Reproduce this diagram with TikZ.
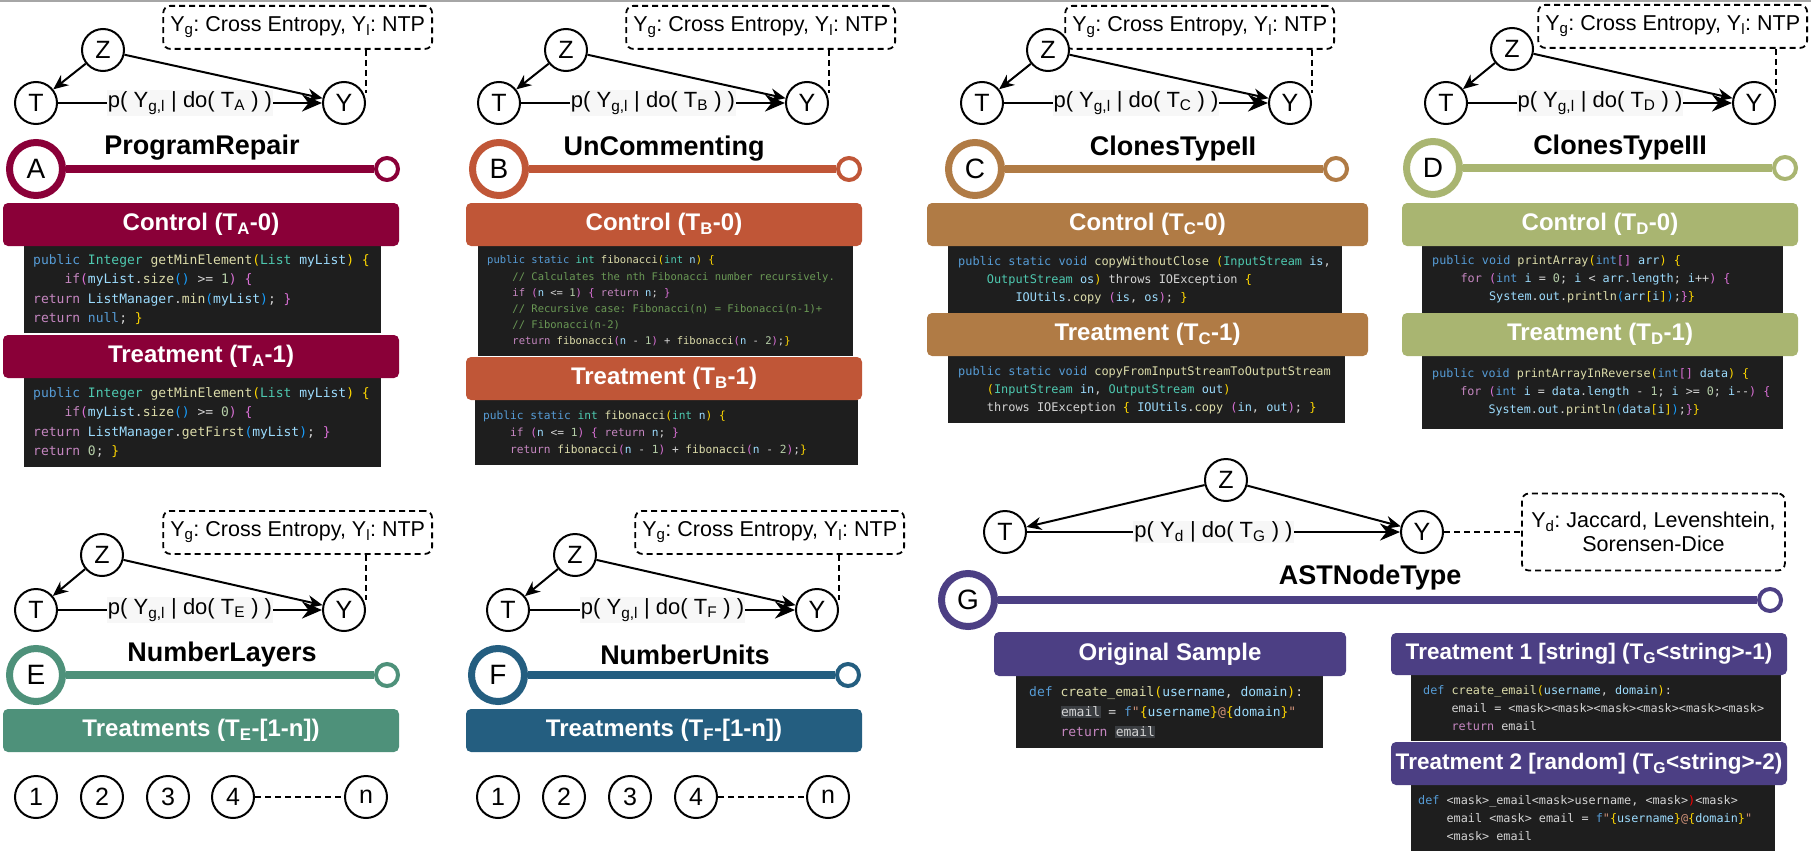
\documentclass[tikz,border=0pt]{standalone}
\usepackage{fontspec}
\setmainfont{Liberation Sans}
\newfontfamily\codefont{DejaVu Sans Mono}
\usepackage{tikz}
\usetikzlibrary{arrows.meta,positioning}
\frenchspacing

\definecolor{colA}{HTML}{8A0038}
\definecolor{colB}{HTML}{C05637}
\definecolor{colC}{HTML}{B07B45}
\definecolor{colD}{HTML}{A9B571}
\definecolor{colE}{HTML}{4E917A}
\definecolor{colF}{HTML}{245E80}
\definecolor{colG}{HTML}{4C3F84}
\definecolor{codebg}{HTML}{1E1E1E}
\definecolor{hlbg}{HTML}{3A3D41}
\definecolor{cdef}{HTML}{D4D4D4}
\definecolor{ckw}{HTML}{569CD6}
\definecolor{cty}{HTML}{4EC9B0}
\definecolor{cfn}{HTML}{DCDCAA}
\definecolor{cfl}{HTML}{C586C0}
\definecolor{cvr}{HTML}{9CDCFE}
\definecolor{ccm}{HTML}{6A9955}
\definecolor{cnm}{HTML}{B5CEA8}
\definecolor{cba}{HTML}{FFD700}
\definecolor{cbb}{HTML}{DA70D6}
\definecolor{cbc}{HTML}{179FFF}
\definecolor{cstr}{HTML}{CE9178}

\newcommand\Kw[1]{\textcolor{ckw}{#1}}
\newcommand\Ty[1]{\textcolor{cty}{#1}}
\newcommand\Fn[1]{\textcolor{cfn}{#1}}
\newcommand\Fl[1]{\textcolor{cfl}{#1}}
\newcommand\Vr[1]{\textcolor{cvr}{#1}}
\newcommand\Cm[1]{\textcolor{ccm}{#1}}
\newcommand\Nm[1]{\textcolor{cnm}{#1}}
\newcommand\Ba[1]{\textcolor{cba}{#1}}
\newcommand\Bb[1]{\textcolor{cbb}{#1}}
\newcommand\Bc[1]{\textcolor{cbc}{#1}}
\newcommand\St[1]{\textcolor{cstr}{#1}}
\newcommand\Hl[1]{{\fboxsep=0.5pt\colorbox{hlbg}{#1}}}
\newcommand\codeind{\phantom{0000}}

\begin{document}
\begin{tikzpicture}[
        x=1pt,
        y=-1pt,
        var/.style={circle, draw, line width=2pt, minimum size=42pt, inner sep=0pt, fill=white, font=\fontsize{25}{25}\selectfont},
        ring/.style={circle, draw=#1, line width=7pt, fill=white, minimum size=53pt, inner sep=0pt, font=\fontsize{28}{28}\selectfont},
        tip/.style={circle, draw=#1, line width=4pt, fill=white, minimum size=22pt, inner sep=0pt},
        bar/.style={draw=#1, line width=8pt},
        title/.style={font=\bfseries\fontsize{27}{27}\selectfont, inner sep=0pt},
        note/.style={draw, dash pattern=on 6pt off 4pt, line width=1.8pt, rounded corners=7pt, inner xsep=7pt, minimum height=43pt, font=\fontsize{21.5}{24}\selectfont},
        notelink/.style={dash pattern=on 6pt off 4pt, line width=1.8pt},
        cause/.style={-{Stealth[length=15pt,width=13pt]}, line width=2pt},
        effect/.style={-{Stealth[length=20pt,width=17pt]}, line width=2.8pt},
        elabel/.style={fill=black!3, inner sep=1pt, font=\fontsize{22}{22}\selectfont},
        head/.style={fill=#1, rounded corners=5pt, text=white, font=\bfseries\fontsize{24}{24}\selectfont, inner sep=0pt, minimum height=43pt},
        code/.style={fill=codebg, anchor=north west, inner sep=0pt},
        src/.style args={#1/#2}{text=cdef, align=left, inner sep=0pt, anchor=west, font=\codefont\fontsize{#1}{#2}\selectfont}
    ]
        \useasboundingbox (0,0) rectangle (1811,859);
        \draw[gray!70, line width=2pt] (0,1) -- (1811,1);

        % A: ProgramRepair
        \node[note, anchor=north east] (noteA) at (433,5) {Y\textsubscript{g}: Cross Entropy, Y\textsubscript{l}: NTP};
        \node[var] (zA) at (103,50) {Z};
        \node[var] (tA) at (36,103) {T};
        \node[var] (yA) at (344,103) {Y};
        \draw[cause] (zA) -- (tA);
        \draw[cause] (zA) -- (yA);
        \draw[effect] (tA) -- node[elabel] {p( Y\textsubscript{g,l} | do( T\textsubscript{A} ) )} (yA);
        \draw[notelink] (noteA.south -| yA.east) -- ([yshift=10pt]yA.east);
        \node[title] (nameA) at (202,148) {ProgramRepair};
        \node[ring=colA] (ringA) at (36,169) {A};
        \node[tip=colA] (endA) at (387,169) {};
        \draw[bar=colA] (ringA) -- (endA);
        \node[code, minimum width=357pt, minimum height=87pt] (bA0) at (24,246) {};
        \node[head=colA, minimum width=396pt] (hA0) at (201,224.5) {Control (T\textsubscript{A}-0)};
        \node[src=13/19.5] (sA0) at ([xshift=9pt]bA0.west) {%
            \Kw{public} \Ty{Integer} \Fn{getMinElement}\Ba{(}\Ty{List} \Vr{myList}\Ba{)} \Ba{\{}\\
            \codeind\Fl{if}\Bb{(}\Vr{myList}.\Fn{size}\Bc{()} >= \Nm{1}\Bb{)} \Bb{\{}\\
            \Fl{return} \Vr{ListManager}.\Fn{min}\Bc{(}\Vr{myList}\Bc{)}; \Bb{\}}\\
            \Fl{return} \Kw{null}; \Ba{\}}};
        \node[code, minimum width=357pt, minimum height=89pt] (bA1) at (24,378) {};
        \node[head=colA, minimum width=396pt] (hA1) at (201,356.5) {Treatment (T\textsubscript{A}-1)};
        \node[src=13/19.5] (sA1) at ([xshift=9pt]bA1.west) {%
            \Kw{public} \Ty{Integer} \Fn{getMinElement}\Ba{(}\Ty{List} \Vr{myList}\Ba{)} \Ba{\{}\\
            \codeind\Fl{if}\Bb{(}\Vr{myList}.\Fn{size}\Bc{()} >= \Nm{0}\Bb{)} \Bb{\{}\\
            \Fl{return} \Vr{ListManager}.\Fn{getFirst}\Bc{(}\Vr{myList}\Bc{)}; \Bb{\}}\\
            \Fl{return} \Nm{0}; \Ba{\}}};

        % B: UnCommenting
        \node[note, anchor=north east] (noteB) at (896,5) {Y\textsubscript{g}: Cross Entropy, Y\textsubscript{l}: NTP};
        \node[var] (zB) at (566,50) {Z};
        \node[var] (tB) at (499,103) {T};
        \node[var] (yB) at (807,103) {Y};
        \draw[cause] (zB) -- (tB);
        \draw[cause] (zB) -- (yB);
        \draw[effect] (tB) -- node[elabel] {p( Y\textsubscript{g,l} | do( T\textsubscript{B} ) )} (yB);
        \draw[notelink] (noteB.south -| yB.east) -- ([yshift=10pt]yB.east);
        \node[title] (nameB) at (664,149) {UnCommenting};
        \node[ring=colB] (ringB) at (499,169) {B};
        \node[tip=colB] (endB) at (849,169) {};
        \draw[bar=colB] (ringB) -- (endB);
        \node[code, minimum width=375pt, minimum height=110pt] (bB0) at (478,246) {};
        \node[head=colB, minimum width=396pt] (hB0) at (664,224.5) {Control (T\textsubscript{B}-0)};
        \node[src=10.5/16.2] (sB0) at ([xshift=9pt]bB0.west) {%
            \Kw{public} \Kw{static} \Ty{int} \Fn{fibonacci}\Ba{(}\Ty{int} \Vr{n}\Ba{)} \Ba{\{}\\
            \codeind\Cm{// Calculates the nth Fibonacci number recursively.}\\
            \codeind\Fl{if} \Bb{(}\Vr{n} <= \Nm{1}\Bb{)} \Bb{\{} \Fl{return} \Vr{n}; \Bb{\}}\\
            \codeind\Cm{// Recursive case: Fibonacci(n) = Fibonacci(n-1)+}\\
            \codeind\Cm{// Fibonacci(n-2)}\\
            \codeind\Fl{return} \Fn{fibonacci}\Bb{(}\Vr{n} - \Nm{1}\Bb{)} + \Fn{fibonacci}\Bb{(}\Vr{n} - \Nm{2}\Bb{)};\Ba{\}}};
        \node[code, minimum width=383pt, minimum height=65pt] (bB1) at (475,400) {};
        \node[head=colB, minimum width=396pt] (hB1) at (664,378.5) {Treatment (T\textsubscript{B}-1)};
        \node[src=11.2/17] (sB1) at ([xshift=8pt]bB1.west) {%
            \Kw{public} \Kw{static} \Ty{int} \Fn{fibonacci}\Ba{(}\Ty{int} \Vr{n}\Ba{)} \Ba{\{}\\
            \codeind\Fl{if} \Bb{(}\Vr{n} <= \Nm{1}\Bb{)} \Bb{\{} \Fl{return} \Vr{n}; \Bb{\}}\\
            \codeind\Fl{return} \Fn{fibonacci}\Bb{(}\Vr{n} - \Nm{1}\Bb{)} + \Fn{fibonacci}\Bb{(}\Vr{n} - \Nm{2}\Bb{)};\Ba{\}}};

        % C: ClonesTypeII
        \node[note, anchor=north east] (noteC) at (1335,5) {Y\textsubscript{g}: Cross Entropy, Y\textsubscript{l}: NTP};
        \node[var] (zC) at (1048,50) {Z};
        \node[var] (tC) at (982,103) {T};
        \node[var] (yC) at (1290,103) {Y};
        \draw[cause] (zC) -- (tC);
        \draw[cause] (zC) -- (yC);
        \draw[effect] (tC) -- node[elabel] {p( Y\textsubscript{g,l} | do( T\textsubscript{C} ) )} (yC);
        \draw[notelink] (noteC.south -| yC.east) -- ([yshift=10pt]yC.east);
        \node[title] (nameC) at (1173,149) {ClonesTypeII};
        \node[ring=colC] (ringC) at (975,169) {C};
        \node[tip=colC] (endC) at (1336,169) {};
        \draw[bar=colC] (ringC) -- (endC);
        \node[code, minimum width=394pt, minimum height=67pt] (bC0) at (948,246) {};
        \node[head=colC, minimum width=441pt] (hC0) at (1147.5,224.5) {Control (T\textsubscript{C}-0)};
        \node[src=11.9/18] (sC0) at ([xshift=10pt]bC0.west) {%
            \Kw{public} \Kw{static} \Kw{void} \Fn{copyWithoutClose} \Ba{(}\Ty{InputStream} \Vr{is},\\
            \codeind\Ty{OutputStream} \Vr{os}\Ba{)} throws IOException \Ba{\{}\\
            \codeind\codeind\Vr{IOUtils}.\Fn{copy} \Bb{(}\Vr{is}, \Vr{os}\Bb{)}; \Ba{\}}};
        \node[code, minimum width=397pt, minimum height=67pt] (bC1) at (948,356) {};
        \node[head=colC, minimum width=441pt] (hC1) at (1147.5,334.5) {Treatment (T\textsubscript{C}-1)};
        \node[src=11.9/18] (sC1) at ([xshift=10pt]bC1.west) {%
            \Kw{public} \Kw{static} \Kw{void} \Fn{copyFromInputStreamToOutputStream}\\
            \codeind\Ba{(}\Ty{InputStream} \Vr{in}, \Ty{OutputStream} \Vr{out}\Ba{)}\\
            \codeind throws IOException \Ba{\{} \Vr{IOUtils}.\Fn{copy} \Bb{(}\Vr{in}, \Vr{out}\Bb{)}; \Ba{\}}};

        % D: ClonesTypeIII
        \node[note, anchor=north east] (noteD) at (1808,4) {Y\textsubscript{g}: Cross Entropy, Y\textsubscript{l}: NTP};
        \node[var] (zD) at (1512,49) {Z};
        \node[var] (tD) at (1446,103) {T};
        \node[var] (yD) at (1754,103) {Y};
        \draw[cause] (zD) -- (tD);
        \draw[cause] (zD) -- (yD);
        \draw[effect] (tD) -- node[elabel] {p( Y\textsubscript{g,l} | do( T\textsubscript{D} ) )} (yD);
        \draw[notelink] (noteD.south -| yD.east) -- ([yshift=10pt]yD.east);
        \node[title] (nameD) at (1620,148) {ClonesTypeIII};
        \node[ring=colD] (ringD) at (1433,168) {D};
        \node[tip=colD] (endD) at (1785,168) {};
        \draw[bar=colD] (ringD) -- (endD);
        \node[code, minimum width=361pt, minimum height=67pt] (bD0) at (1422,246) {};
        \node[head=colD, minimum width=396pt] (hD0) at (1600,224.5) {Control (T\textsubscript{D}-0)};
        \node[src=11.8/18] (sD0) at ([xshift=10pt]bD0.west) {%
            \Kw{public} \Kw{void} \Fn{printArray}\Ba{(}\Kw{int}\Bb{[]} \Vr{arr}\Ba{)} \Ba{\{}\\
            \codeind\Fl{for} \Bb{(}\Kw{int} \Vr{i} = \Nm{0}; \Vr{i} < \Vr{arr}.\Vr{length}; \Vr{i}++\Bb{)} \Bb{\{}\\
            \codeind\codeind\Vr{System}.\Vr{out}.\Fn{println}\Bc{(}\Vr{arr}\Ba{[}\Vr{i}\Ba{]}\Bc{)};\Bb{\}}\Ba{\}}};
        \node[code, minimum width=361pt, minimum height=73pt] (bD1) at (1422,356) {};
        \node[head=colD, minimum width=396pt] (hD1) at (1600,334.5) {Treatment (T\textsubscript{D}-1)};
        \node[src=11.7/18] (sD1) at ([xshift=10pt]bD1.west) {%
            \Kw{public} \Kw{void} \Fn{printArrayInReverse}\Ba{(}\Kw{int}\Bb{[]} \Vr{data}\Ba{)} \Ba{\{}\\
            \codeind\Fl{for} \Bb{(}\Kw{int} \Vr{i} = \Vr{data}.\Vr{length} - \Nm{1}; \Vr{i} >= \Nm{0}; \Vr{i}--\Bb{)} \Bb{\{}\\
            \codeind\codeind\Vr{System}.\Vr{out}.\Fn{println}\Bc{(}\Vr{data}\Ba{[}\Vr{i}\Ba{]}\Bc{)};\Bb{\}}\Ba{\}}};

        % E: NumberLayers
        \node[note, anchor=north east] (noteE) at (433,510) {Y\textsubscript{g}: Cross Entropy, Y\textsubscript{l}: NTP};
        \node[var] (zE) at (102,555) {Z};
        \node[var] (tE) at (36,610) {T};
        \node[var] (yE) at (344,610) {Y};
        \draw[cause] (zE) -- (tE);
        \draw[cause] (zE) -- (yE);
        \draw[effect] (tE) -- node[elabel] {p( Y\textsubscript{g,l} | do( T\textsubscript{E} ) )} (yE);
        \draw[notelink] (noteE.south -| yE.east) -- ([yshift=10pt]yE.east);
        \node[title] (nameE) at (222,655) {NumberLayers};
        \node[ring=colE] (ringE) at (36,675) {E};
        \node[tip=colE] (endE) at (387,675) {};
        \draw[bar=colE] (ringE) -- (endE);
        \node[head=colE, minimum width=396pt] (hE) at (201,730.5) {Treatments (T\textsubscript{E}-[1-n])};
        \foreach \i/\x in {1/36,2/102,3/168,4/233} {
            \node[var] (nE\i) at (\x,797) {\i};
        }
        \node[var] (nEn) at (366,797) {n};
        \draw[notelink] (nE4) -- (nEn);

        % F: NumberUnits
        \node[note, anchor=north east] (noteF) at (905,510) {Y\textsubscript{g}: Cross Entropy, Y\textsubscript{l}: NTP};
        \node[var] (zF) at (575,555) {Z};
        \node[var] (tF) at (508,610) {T};
        \node[var] (yF) at (817,610) {Y};
        \draw[cause] (zF) -- (tF);
        \draw[cause] (zF) -- (yF);
        \draw[effect] (tF) -- node[elabel] {p( Y\textsubscript{g,l} | do( T\textsubscript{F} ) )} (yF);
        \draw[notelink] (noteF.south -| yF.east) -- ([yshift=10pt]yF.east);
        \node[title] (nameF) at (685,655) {NumberUnits};
        \node[ring=colF] (ringF) at (498,675) {F};
        \node[tip=colF] (endF) at (848,675) {};
        \draw[bar=colF] (ringF) -- (endF);
        \node[head=colF, minimum width=396pt] (hF) at (664,730.5) {Treatments (T\textsubscript{F}-[1-n])};
        \foreach \i/\x in {1/498,2/564,3/630,4/696} {
            \node[var] (nF\i) at (\x,797) {\i};
        }
        \node[var] (nFn) at (828,797) {n};
        \draw[notelink] (nF4) -- (nFn);

        % G: ASTNodeType
        \node[var] (zG) at (1226,480) {Z};
        \node[var] (tG) at (1005,532) {T};
        \node[var] (yG) at (1422,532) {Y};
        \node[note, align=center, anchor=west, minimum height=77pt, minimum width=263pt] (noteG) at (1521,532) {Y\textsubscript{d}: Jaccard, Levenshtein,\\Sorensen-Dice};
        \draw[cause] (zG) -- (tG);
        \draw[cause] (zG) -- (yG);
        \draw[effect] (tG) -- node[elabel] {p( Y\textsubscript{d} | do( T\textsubscript{G} ) )} (yG);
        \draw[notelink] (yG) -- (noteG);
        \node[title] (nameG) at (1370,578) {ASTNodeType};
        \node[ring=colG] (ringG) at (968,600) {G};
        \node[tip=colG] (endG) at (1770,600) {};
        \draw[bar=colG] (ringG) -- (endG);
        \node[code, minimum width=307pt, minimum height=72pt] (bG0) at (1016,676) {};
        \node[head=colG, minimum width=352pt, minimum height=44pt] (hG0) at (1170,654) {Original Sample};
        \node[src=13/20] (sG0) at ([xshift=13pt]bG0.west) {%
            \Kw{def} \Fn{create\_email}\Ba{(}\Vr{username}, \Vr{domain}\Ba{)}:\\
            \codeind\Hl{email} = \Kw{f}\St{"}\Ba{\{}\Vr{username}\Ba{\}}\St{@}\Ba{\{}\Vr{domain}\Ba{\}}\St{"}\\
            \codeind\Fl{return} \Hl{email}};
        \node[code, minimum width=370pt, minimum height=66pt] (bG1) at (1411,675) {};
        \node[head=colG, minimum width=396pt, minimum height=42pt, font=\bfseries\fontsize{22.5}{22.5}\selectfont] (hG1) at (1589,654) {Treatment 1 [string] (T\textsubscript{G}<string>-1)};
        \node[src=11.8/18] (sG1) at ([xshift=12pt]bG1.west) {%
            \Kw{def} \Fn{create\_email}\Ba{(}\Vr{username}, \Vr{domain}\Ba{)}:\\
            \codeind email = <mask><mask><mask><mask><mask><mask>\\
            \codeind\Fl{return} email};
        \node[code, minimum width=364pt, minimum height=66pt] (bG2) at (1411,785) {};
        \node[head=colG, minimum width=396pt, font=\bfseries\fontsize{22.5}{22.5}\selectfont] (hG2) at (1589,763.5) {Treatment 2 [random] (T\textsubscript{G}<string>-2)};
        \node[src=11.8/18] (sG2) at ([xshift=7pt]bG2.west) {%
            \Kw{def} <mask>\_email<mask>username, <mask>\textcolor{red}{)}<mask>\\
            \codeind email <mask> email = \Kw{f}\St{"}\Ba{\{}\Vr{username}\Ba{\}}\St{@}\Ba{\{}\Vr{domain}\Ba{\}}\St{"}\\
            \codeind <mask> email};
    \end{tikzpicture}
\end{document}
